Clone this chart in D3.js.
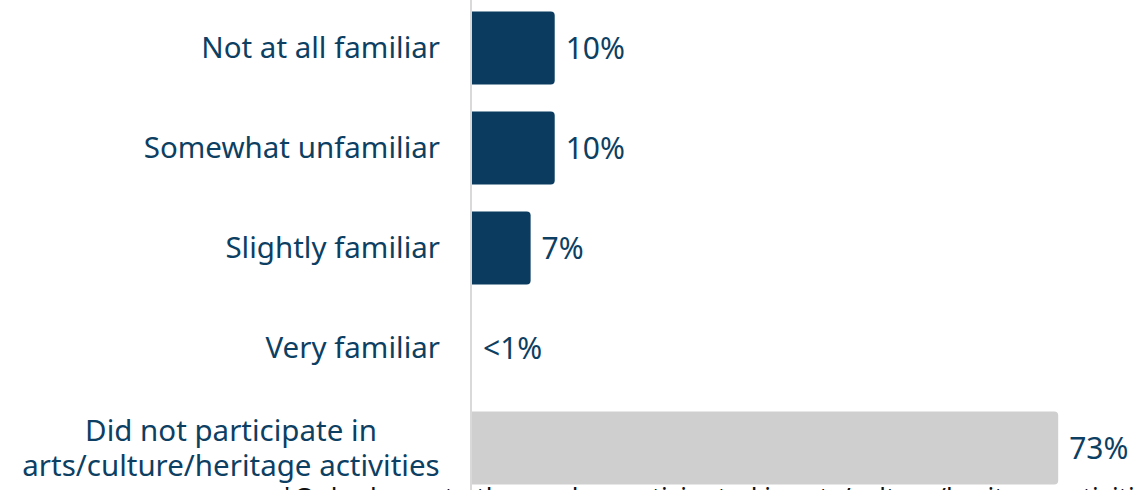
<!DOCTYPE html>
<html>
<head>
<meta charset="utf-8">
<script src="https://cdn.jsdelivr.net/npm/d3@7"></script>
<style>
  html, body { margin: 0; padding: 0; background: #fff; overflow: hidden; }
  svg { display: block; font-family: "Noto Sans", sans-serif; }
</style>
</head>
<body>
<div id="chart"></div>
<script>
// data
var categories = [
  "Not at all familiar",
  "Somewhat unfamiliar",
  "Slightly familiar",
  "Very familiar",
  "Did not participate in|arts/culture/heritage activities"
];
var values = [10.3, 10.3, 7.3, 0, 73];
var valueLabels = ["10%", "10%", "7%", "<1%", "73%"];
var barColors = ["#0b3c5f", "#0b3c5f", "#0b3c5f", "#0b3c5f", "#d0cfd0"];
var footnote = "*Only shown to those who participated in arts/culture/heritage activities";

var width = 1147,
  height = 490,
  axisX = 471;

var svg = d3.select("#chart")
  .append("svg")
  .attr("width", width)
  .attr("height", height);

var x = d3.scaleLinear()
  .domain([0, 100])
  .range([axisX + 1, axisX + 1 + 803]);

var y = d3.scaleBand()
  .domain(categories)
  .range([-2, 498])
  .paddingInner(0.27)
  .paddingOuter(0.135);

var rows = categories.map(function (c, i) {
  return { cat: c, value: values[i], label: valueLabels[i], color: barColors[i] };
});

// bars, rounded on the right end
svg.selectAll(".bar")
  .data(rows)
  .enter()
  .append("path")
  .attr("class", "bar")
  .attr("fill", function (d) { return d.color; })
  .attr("d", function (d) {
    var x0 = x(0), x1 = x(d.value), y0 = y(d.cat), h = y.bandwidth();
    var r = Math.min(4, (x1 - x0) / 2);
    if (x1 - x0 <= 0) return "";
    return "M" + x0 + "," + y0 +
      "H" + (x1 - r) + "Q" + x1 + "," + y0 + " " + x1 + "," + (y0 + r) +
      "V" + (y0 + h - r) + "Q" + x1 + "," + (y0 + h) + " " + (x1 - r) + "," + (y0 + h) +
      "H" + x0 + "Z";
  });

// axis line
svg.append("line")
  .attr("x1", axisX).attr("x2", axisX)
  .attr("y1", 0).attr("y2", height)
  .attr("stroke", "#d9d9d9")
  .attr("stroke-width", 2);

// category labels
var labels = svg.selectAll(".cat")
  .data(rows)
  .enter()
  .append("text")
  .attr("class", "cat")
  .attr("fill", "#0d3f63")
  .style("font-size", "29.5px");

labels.each(function (d) {
  var lines = d.cat.split("|");
  var t = d3.select(this);
  var cy = y(d.cat) + y.bandwidth() / 2;
  if (lines.length === 1) {
    t.append("tspan")
      .attr("x", 440)
      .attr("y", cy)
      .attr("dy", "0.35em")
      .attr("text-anchor", "end")
      .text(lines[0]);
  } else {
    lines.forEach(function (l, i) {
      t.append("tspan")
        .attr("x", 231)
        .attr("y", cy + (i - 0.5) * 35)
        .attr("dy", "0.35em")
        .attr("text-anchor", "middle")
        .text(l);
    });
  }
});

// value labels
svg.selectAll(".val")
  .data(rows)
  .enter()
  .append("text")
  .attr("class", "val")
  .attr("x", function (d) { return x(d.value) + 11; })
  .attr("y", function (d) { return y(d.cat) + y.bandwidth() / 2; })
  .attr("dy", "0.36em")
  .attr("fill", "#0d3f63")
  .style("font-size", "30px")
  .text(function (d) { return d.label; });

// footnote, cut by the bottom edge as in the source
svg.append("text")
  .attr("x", 280)
  .attr("y", 506)
  .attr("fill", "#111")
  .style("font-size", "26px")
  .text(footnote);
</script>
</body>
</html>
